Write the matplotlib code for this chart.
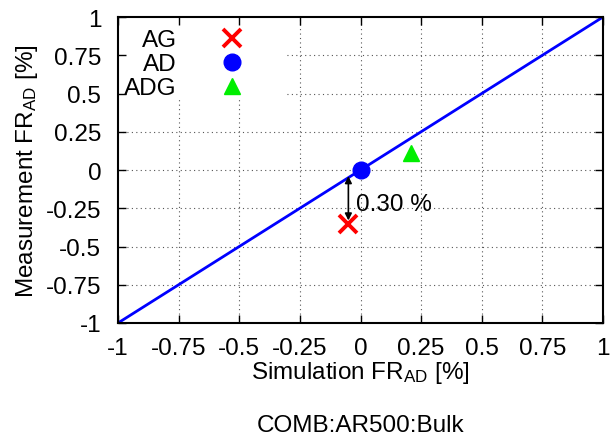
import matplotlib
matplotlib.use("Agg")
import matplotlib.pyplot as plt
from matplotlib.patches import Rectangle

plt.rcParams['font.family'] = ['Liberation Sans', 'DejaVu Sans']
plt.rcParams['mathtext.default'] = 'regular'

# Data
labels = ["AG", "AD", "ADG"]
sim_x = [-0.05, 0.0, 0.21]
meas_y = [-0.35, 0.0, 0.11]
colors = ["#ff0000", "#0000ff", "#00ee00"]
markers = ["x", "o", "^"]
diag = [-1, 1]
ticks = [-1, -0.75, -0.5, -0.25, 0, 0.25, 0.5, 0.75, 1]
tick_labels = ["-1", "-0.75", "-0.5", "-0.25", "0", "0.25", "0.5", "0.75", "1"]
arrow_x = -0.05
arrow_y = [-0.04, -0.33]
diff_label = "0.30 %"
diff_pos = (-0.02, -0.225)
title = "COMB:AR500:Bulk"

FS = 17.5
fig = plt.figure(figsize=(6.11, 4.39), dpi=100)
ax = fig.add_axes([118/611, 1-324/439, (603-118)/611, (324-18)/439])

# grid (dotted), drawn beneath an opaque key box
ax.vlines(ticks[1:-1], -1, 1, linestyles=(0, (1, 3)), colors='#555555', lw=0.8, zorder=0.8)
ax.hlines(ticks[1:-1], -1, 1, linestyles=(0, (1, 3)), colors='#555555', lw=0.8, zorder=0.8)
ax.add_patch(Rectangle((0.0, 0.735), 0.345, 0.265, transform=ax.transAxes,
                       facecolor='white', edgecolor='none', zorder=1))

ax.plot(diag, diag, color="#0000ff", lw=2, zorder=2)

sizes = [13, 12, 11]
mews = [2.8, 1, 1]
for lab, x, y, c, m, s, mw in zip(labels, sim_x, meas_y, colors, markers, sizes, mews):
    ax.plot([x], [y], linestyle='none', marker=m, color=c, markersize=s,
            markeredgewidth=mw, label=lab, zorder=3)

ax.annotate("", xy=(arrow_x, arrow_y[1]), xytext=(arrow_x, arrow_y[0]),
            arrowprops=dict(arrowstyle="<|-|>", color="black", lw=1.2,
                            mutation_scale=10, shrinkA=0, shrinkB=0), zorder=4)
ax.text(diff_pos[0], diff_pos[1], diff_label, fontsize=FS, va='center', ha='left')

ax.set_xlim(-1, 1)
ax.set_ylim(-1, 1)
ax.set_xticks(ticks)
ax.set_xticklabels(tick_labels)
ax.set_yticks(ticks)
ax.set_yticklabels(tick_labels)
ax.set_axisbelow(False)
ax.tick_params(direction='in', length=6, width=1, top=True, right=True,
               labelsize=FS)
ax.tick_params(axis='x', pad=10)
ax.tick_params(axis='y', pad=12)
for sp in ax.spines.values():
    sp.set_linewidth(1.5)
    sp.set_zorder(3)

ax.set_xlabel("Simulation FR$_{AD}$ [%]", fontsize=FS, labelpad=0)
ax.set_ylabel("Measurement FR$_{AD}$ [%]", fontsize=FS, labelpad=4)

leg = ax.legend(loc='upper right', markerfirst=False, fontsize=FS, frameon=False,
                handlelength=1.5, handletextpad=1.5, labelspacing=0.08,
                borderaxespad=0.0, borderpad=0.0, bbox_to_anchor=(0.272, 0.96))
leg.set_zorder(5)

fig.text((118+603)/2/611, 1-426/439, title, fontsize=FS, ha='center', va='center')

fig.savefig("out.png", dpi=100)
